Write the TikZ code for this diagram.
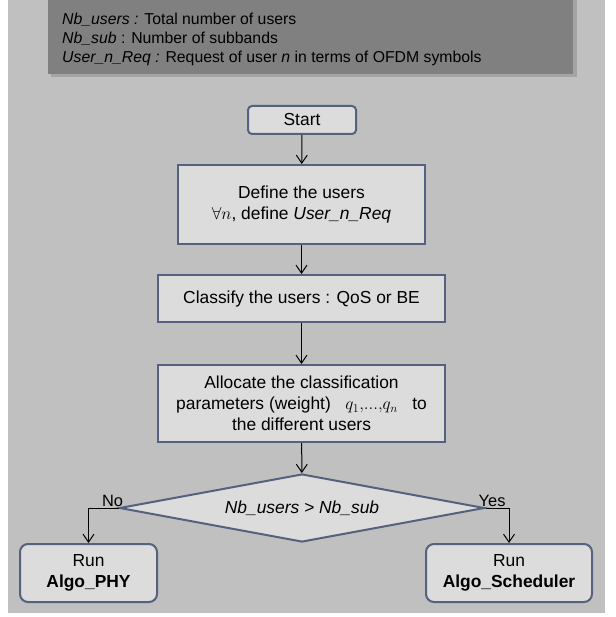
\documentclass[tikz,border=0pt]{standalone}
\usepackage{fontspec}
\setmainfont{Liberation Sans}
\usetikzlibrary{arrows.meta,shapes.geometric,positioning}

\definecolor{pagegray}{HTML}{C0C0C0}
\definecolor{notegray}{HTML}{808080}
\definecolor{noteshade}{HTML}{A4A4A4}
\definecolor{boxfill}{HTML}{DCDCDC}
\definecolor{boxline}{HTML}{56607F}

\begin{document}
\begin{tikzpicture}[x=1pt,y=-1pt,
    font=\fontsize{17.4}{21}\selectfont,
    stepbox/.style={draw=boxline,fill=boxfill,line width=2pt,align=center,inner sep=0pt},
    roundbox/.style={stepbox,rounded corners=8pt},
    decision/.style={stepbox,diamond,aspect=5.2},
    flow/.style={draw,line width=1pt,-{Straight Barb[length=8pt,width=11pt]}},
    branch/.style={font=\fontsize{16.4}{18}\selectfont,inner sep=1pt},
    legend/.style={anchor=base west,inner sep=0pt,font=\fontsize{15.8}{19}\selectfont}]
  \useasboundingbox (0,0) rectangle (615,617);
  % background sheet and the legend box on top
  \fill[pagegray] (8,0) rectangle (605,613);
  \fill[noteshade] (51,0) rectangle (577,77);
  \fill[notegray] (48,0) rectangle (573,74);
  \node[legend] (note1) at (62,25) {\textit{Nb\_users :} Total number of users};
  \node[legend] (note2) at (62,44) {\textit{Nb\_sub} : Number of subbands};
  \node[legend] (note3) at (62,63) {\textit{User\_n\_Req :} Request of user \textit{n} in terms of OFDM symbols};

  % the flow chart
  \node[stepbox,rounded corners=4pt,minimum width=108pt,minimum height=28pt] (start) at (302,120) {Start};
  \node[stepbox,minimum width=247pt,minimum height=79pt] (define) at (301.5,204.5)
    {Define the users\\$\forall n$, define \textit{User\_n\_Req}};
  \node[stepbox,minimum width=287pt,minimum height=47pt] (classify) at (301.5,298.5)
    {Classify the users : QoS or BE};
  \node[stepbox,minimum width=287pt,minimum height=77pt] (allocate) at (301.5,403.5)
    {Allocate the classification\\parameters (weight) \ \ $q_1,\!...,\!q_n$ \ \ to\\the different users};
  \node[decision,minimum width=365pt,minimum height=68pt] (test) at (302,508)
    {\textit{Nb\_users > Nb\_sub}};
  \node[roundbox,minimum width=137pt,minimum height=58pt] (phy) at (88.5,573)
    {Run\\\textbf{Algo\_PHY}};
  \node[roundbox,minimum width=166pt,minimum height=58pt] (sched) at (509,573)
    {Run\\\textbf{Algo\_Scheduler}};

  \draw[flow] (start) -- (define);
  \draw[flow] (define) -- (classify);
  \draw[flow] (classify) -- (allocate);
  \draw[flow] (allocate) -- (test);
  \draw[flow] (test.west) -| node[branch,above,pos=0.1] {No} (phy.north);
  \draw[flow] (test.east) -| node[branch,above,pos=0.14] {Yes} (sched.north);
\end{tikzpicture}
\end{document}
